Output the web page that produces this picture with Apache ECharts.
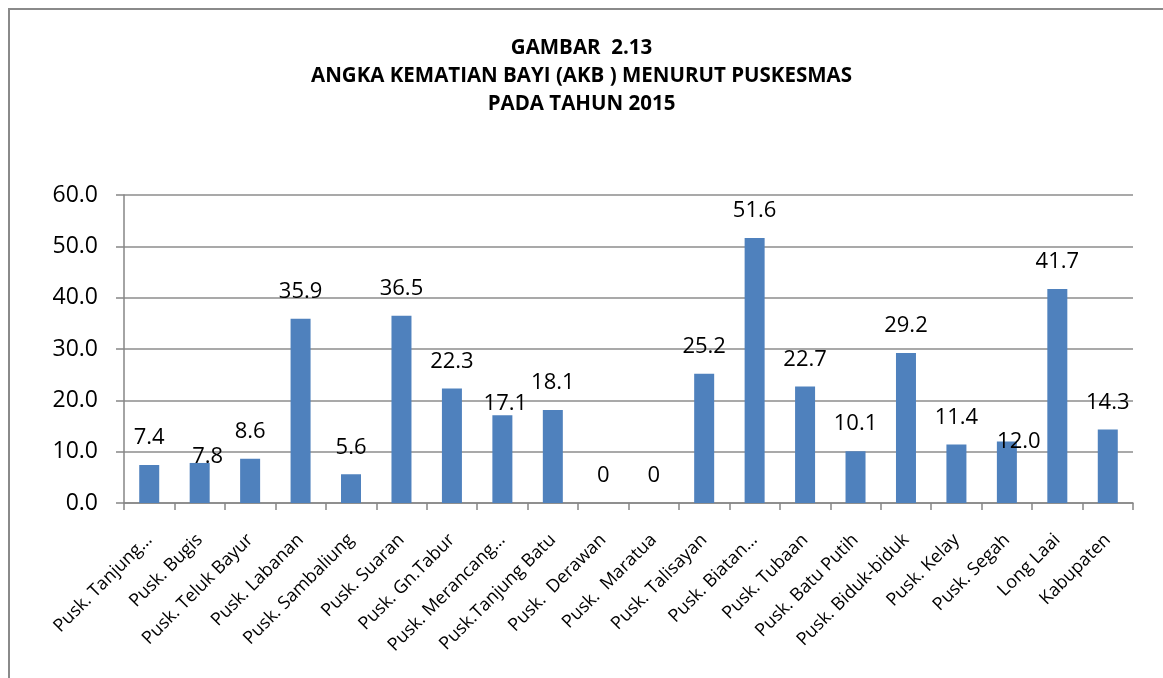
<!DOCTYPE html>
<html>
<head>
<meta charset="utf-8">
<script src="https://cdn.jsdelivr.net/npm/echarts@6/dist/echarts.min.js"></script>
<style>
html,body{margin:0;padding:0;background:#fff;}
#chart{width:1163px;height:678px;}
</style>
</head>
<body>
<div id="chart"></div>
<script>
const titleLines = ["GAMBAR  2.13", "ANGKA KEMATIAN BAYI (AKB ) MENURUT PUSKESMAS", "PADA TAHUN 2015"];
const categories = ["Pusk. Tanjung…", "Pusk. Bugis", "Pusk. Teluk Bayur", "Pusk. Labanan", "Pusk. Sambaliung", "Pusk. Suaran", "Pusk. Gn.Tabur", "Pusk. Merancang…", "Pusk.Tanjung Batu", "Pusk.  Derawan", "Pusk.  Maratua", "Pusk. Talisayan", "Pusk. Biatan…", "Pusk. Tubaan", "Pusk. Batu Putih", "Pusk. Biduk-biduk", "Pusk. Kelay", "Pusk. Segah", "Long Laai", "Kabupaten"];
const akbValues = [7.4, 7.8, 8.6, 35.9, 5.6, 36.5, 22.3, 17.1, 18.1, 0, 0, 25.2, 51.6, 22.7, 10.1, 29.2, 11.4, 12.0, 41.7, 14.3];
const yTicks = [0, 10, 20, 30, 40, 50, 60];

const FONT = "'Open Sans', 'Noto Sans', sans-serif";
// label placement tweaks (styling only) for manually moved labels in the original
const labelTweaks = { 1: [8, 21], 7: [3, 16], 17: [12, 27] };

const seriesData = akbValues.map((v, i) => {
  const item = { value: v };
  if (labelTweaks[i]) item.label = { offset: labelTweaks[i] };
  return item;
});

const chart = echarts.init(document.getElementById('chart'), null, { renderer: 'canvas' });
chart.setOption({
  animation: false,
  backgroundColor: '#ffffff',
  graphic: [{
    type: 'rect',
    shape: { x: 9, y: 9, width: 1300, height: 800 },
    style: { fill: 'none', stroke: '#8a8a8a', lineWidth: 2 },
    silent: true, z: -1
  }],
  title: {
    text: titleLines.join('\n'),
    left: 'center',
    top: 29,
    textStyle: { fontFamily: FONT, fontWeight: 'bold', fontSize: 20.5, lineHeight: 28, color: '#000' }
  },
  grid: { left: 124, right: 30, top: 195, bottom: 175, containLabel: false },
  xAxis: {
    type: 'category',
    data: categories,
    boundaryGap: true,
    axisLine: { show: true, lineStyle: { color: '#868686', width: 1.5 } },
    axisTick: { show: true, length: 7, lineStyle: { color: '#868686', width: 1.5 } },
    axisLabel: { interval: 0, rotate: 45, margin: 34, fontFamily: FONT, fontSize: 18, color: '#000' },
    splitLine: { show: false }
  },
  yAxis: {
    type: 'value',
    min: yTicks[0],
    max: yTicks[yTicks.length - 1],
    interval: yTicks[1] - yTicks[0],
    axisLine: { show: true, lineStyle: { color: '#868686', width: 1.5 } },
    axisTick: { show: true, length: 8, lineStyle: { color: '#868686', width: 1.5 } },
    axisLabel: { margin: 26, fontFamily: FONT, fontSize: 23, color: '#000', formatter: v => v.toFixed(1) },
    splitLine: { show: true, lineStyle: { color: '#8c8c8c', width: 1.5 } }
  },
  series: [{
    type: 'bar',
    data: seriesData,
    barWidth: 20,
    itemStyle: { color: '#4F81BD' },
    label: {
      show: true,
      position: 'top',
      distance: 16,
      fontFamily: FONT,
      fontSize: 22,
      color: '#000',
      formatter: p => (p.value === 0 ? '0' : p.value.toFixed(1))
    }
  }]
});
</script>
</body>
</html>
